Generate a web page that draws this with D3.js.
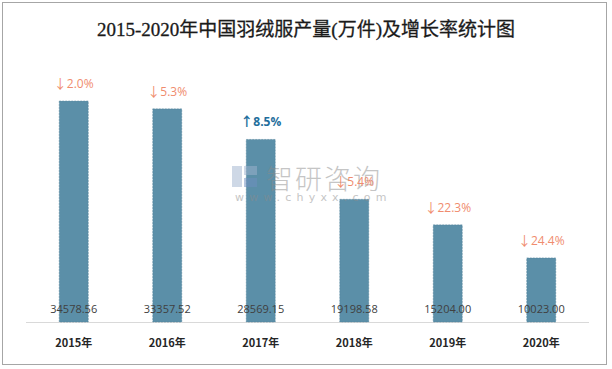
<!DOCTYPE html>
<html><head><meta charset="utf-8">
<script src="https://cdn.jsdelivr.net/npm/d3@7"></script>
<style>body{margin:0;background:#fff;}svg{display:block;}</style>
</head><body>
<script>
const categories = ["2015年","2016年","2017年","2018年","2019年","2020年"];
const values = [34578.56, 33357.52, 28569.15, 19198.58, 15204.00, 10023.00];
const growth = ["2.0%","5.3%","8.5%","5.4%","22.3%","24.4%"];
const direction = ["down","down","up","down","down","down"];

const W = 612, H = 369;
const svg = d3.select("body").append("svg").attr("width", W).attr("height", H);
svg.append("rect").attr("x", 2.5).attr("y", 2.5).attr("width", 604).attr("height", 362)
  .attr("fill", "#fff").attr("stroke", "#a6a6a6").attr("stroke-width", 1);

svg.append("text").attr("x", 306).attr("y", 36).attr("text-anchor", "middle")
  .attr("font-family", "'Liberation Serif','DejaVu Serif','Noto Sans CJK SC',serif")
  .attr("font-size", 19).attr("fill", "#1a1a1a").attr("font-weight", "normal")
  .attr("stroke", "#1a1a1a").attr("stroke-width", 0.3)
  .text("2015-2020年中国羽绒服产量(万件)及增长率统计图");

const x = d3.scaleBand().domain(categories).range([27, 588]).paddingInner(0.69).paddingOuter(0.345);
const y = d3.scaleLinear().domain([0, 40000]).range([322, 66.4]);

svg.append("line").attr("x1", 26).attr("x2", 589).attr("y1", 322.5).attr("y2", 322.5)
  .attr("stroke", "#d9d9d9").attr("stroke-width", 1);

svg.selectAll("rect.bar").data(values).enter().append("rect").attr("class", "bar")
  .attr("x", (d, i) => x(categories[i])).attr("width", x.bandwidth())
  .attr("y", d => y(d)).attr("height", d => y(0) - y(d))
  .attr("fill", "#5b8fa8").attr("stroke", "#4f7f97").attr("stroke-width", 0.5).attr("stroke-dasharray", "2,1");

// watermark
const wm = svg.append("g").attr("opacity", 0.5);
wm.append("rect").attr("x", 232).attr("y", 166).attr("width", 10).attr("height", 21).attr("fill", "#9fb3cf");
wm.append("rect").attr("x", 244).attr("y", 166).attr("width", 13).attr("height", 9).attr("fill", "#9fb3cf");
wm.append("rect").attr("x", 244).attr("y", 178).attr("width", 13).attr("height", 9).attr("fill", "#6f8fc0");
wm.append("text").attr("x", 266).attr("y", 189).attr("font-family", "'Noto Sans CJK SC',sans-serif")
  .attr("font-size", 27).attr("font-weight", 300).attr("fill", "#8c8c8c").attr("letter-spacing", 2).text("智研咨询");
wm.append("text").attr("x", 235).attr("y", 201).attr("font-family", "'DejaVu Sans',sans-serif")
  .attr("font-size", 11).attr("fill", "#8c8c8c").attr("letter-spacing", 5.2).text("www.chyxx.com");

svg.selectAll("text.val").data(values).enter().append("text").attr("class", "val")
  .attr("x", (d, i) => x(categories[i]) + x.bandwidth() / 2).attr("y", 313)
  .attr("text-anchor", "middle").attr("font-family", "'Open Sans','DejaVu Sans',sans-serif")
  .attr("font-size", 11).attr("fill", "#404040").text(d => d.toFixed(2));

svg.selectAll("text.cat").data(categories).enter().append("text").attr("class", "cat")
  .attr("x", d => x(d) + x.bandwidth() / 2).attr("y", 347)
  .attr("text-anchor", "middle").attr("font-family", "'Noto Sans CJK SC',sans-serif")
  .attr("font-size", 11).attr("font-weight", "bold").attr("fill", "#262626").text(d => d);

const gr = svg.selectAll("text.gr").data(values).enter().append("text").attr("class", "gr")
  .attr("x", (d, i) => x(categories[i]) + x.bandwidth() / 2).attr("y", d => y(d) - 13)
  .attr("text-anchor", "middle").attr("font-family", "'Open Sans','DejaVu Sans',sans-serif")
  .attr("font-size", 12)
  .attr("font-weight", (d, i) => direction[i] === "up" ? "bold" : "normal")
  .attr("fill", (d, i) => direction[i] === "up" ? "#1f6e9c" : "#f08c6e");
gr.append("tspan").attr("font-family", "'Noto Sans CJK SC',sans-serif").attr("font-size", 13)
  .text((d, i) => direction[i] === "up" ? "↑" : "↓");
gr.append("tspan").text((d, i) => growth[i]);
</script>
</body></html>
